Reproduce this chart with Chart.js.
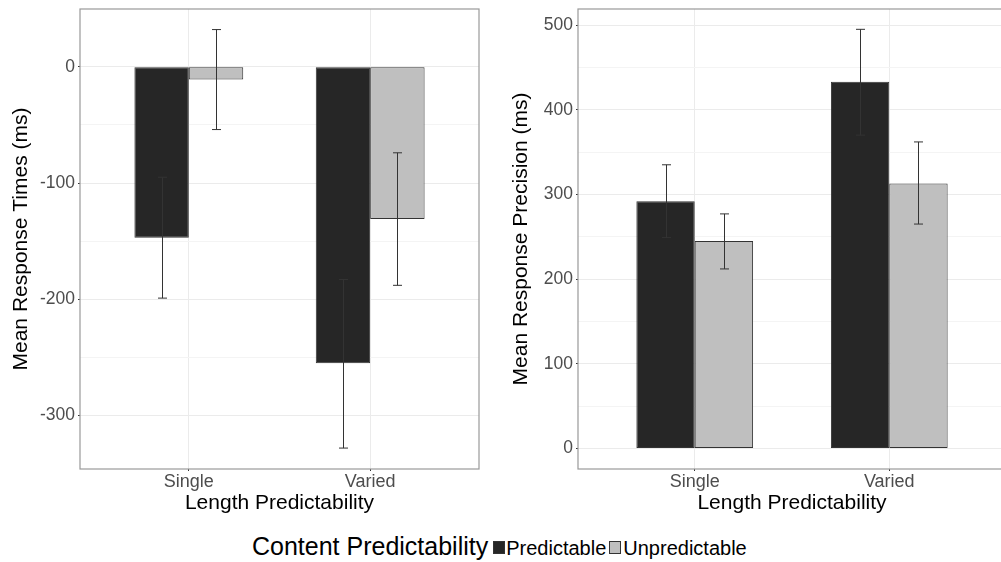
<!DOCTYPE html>
<html>
<head>
<meta charset="utf-8">
<script src="https://cdn.jsdelivr.net/npm/chart.js@4.4.1/dist/chart.umd.min.js"></script>
<style>
  html, body { margin:0; padding:0; background:#fff; width:1001px; height:562px; overflow:hidden; }
  .panel { position:absolute; top:0; }
  #left { left:0; }
  #right { left:500px; }
  #legend { position:absolute; left:252px; top:531px; font-family:'Liberation Sans', Arial, sans-serif;
            font-size:25px; line-height:30px; white-space:nowrap; color:#000; }
  #legend .lab { font-size:20px; }
  #legend .key { display:inline-block; width:10px; height:11px; border:1px solid #333; vertical-align:1px; }
</style>
</head>
<body>
<div class="panel" id="left"><canvas id="rtChart" width="500" height="525"></canvas></div>
<div class="panel" id="right"><canvas id="precChart" width="520" height="525"></canvas></div>
<div id="legend"><span>Content Predictability</span><span class="key" style="background:#262626;margin-left:5px"></span><span class="lab" style="margin-left:1px">Predictable</span><span class="key" style="background:#bfbfbf;margin-left:3px"></span><span class="lab" style="margin-left:2px">Unpredictable</span></div>
<script>
// ---- data ----
const categories = ['Single', 'Varied'];
const seriesNames = ['Predictable', 'Unpredictable'];

// left panel: mean response times (ms)
const rtPredictable   = [-147, -255];
const rtUnpredictable = [-11, -131];
const rtPredLow  = [-199, -328];
const rtPredHigh = [-95, -183];
const rtUnpLow   = [-54, -188];
const rtUnpHigh  = [32, -74];
const rtTicks = [-300, -200, -100, 0];

// right panel: mean response precision (ms)
const precPredictable   = [292, 433];
const precUnpredictable = [245, 313];
const precPredLow  = [249, 370];
const precPredHigh = [335, 495];
const precUnpLow   = [212, 265];
const precUnpHigh  = [277, 362];
const precTicks = [0, 100, 200, 300, 400, 500];

// ---- styling ----
Chart.defaults.font.family = "'Liberation Sans', Arial, sans-serif";
Chart.defaults.animation = false;
const DARK = '#262626', LIGHT = '#bfbfbf', EDGE = '#333333';

const errorBars = {
  id: 'errorBars',
  afterDatasetsDraw(chart){
    const ctx = chart.ctx, y = chart.scales.y;
    ctx.save();
    ctx.strokeStyle = EDGE; ctx.lineWidth = 1;
    chart.data.datasets.forEach((ds, i) => {
      chart.getDatasetMeta(i).data.forEach((bar, j) => {
        const x = Math.round(bar.x) + 0.5;
        const top = y.getPixelForValue(ds.errHigh[j]);
        const bot = y.getPixelForValue(ds.errLow[j]);
        ctx.beginPath();
        ctx.moveTo(x, top); ctx.lineTo(x, bot);
        ctx.moveTo(x - 4.5, top); ctx.lineTo(x + 4.5, top);
        ctx.moveTo(x - 4.5, bot); ctx.lineTo(x + 4.5, bot);
        ctx.stroke();
      });
    });
    ctx.restore();
  }
};

const panelBox = {
  id: 'panelBox',
  afterDraw(chart){
    const a = chart.chartArea, ctx = chart.ctx;
    ctx.save();
    ctx.strokeStyle = '#999'; ctx.lineWidth = 1.2;
    ctx.strokeRect(a.left, a.top, a.right - a.left, a.bottom - a.top);
    ctx.restore();
  }
};

function makePanel(id, cfg){
  const toPts = arr => arr.map((v, i) => ({x: i + 1, y: v}));
  const bar = {borderColor: EDGE, borderWidth: 1, borderSkipped: false, categoryPercentage: 0.6, barPercentage: 1};
  return new Chart(document.getElementById(id), {
    type: 'bar',
    data: {
      datasets: [
        Object.assign({label: seriesNames[0], data: toPts(cfg.pred), backgroundColor: DARK, errLow: cfg.predLow, errHigh: cfg.predHigh}, bar),
        Object.assign({label: seriesNames[1], data: toPts(cfg.unp), backgroundColor: LIGHT, errLow: cfg.unpLow, errHigh: cfg.unpHigh}, bar)
      ]
    },
    options: {
      responsive: false,
      layout: {padding: {top: 9, right: cfg.padRight, left: 0, bottom: 0}},
      plugins: {legend: {display: false}, tooltip: {enabled: false}},
      scales: {
        x: {
          type: 'linear', min: 0.4, max: 2.6, offset: false,
          afterBuildTicks: s => { s.ticks = categories.map((c, i) => ({value: i + 1})); },
          afterFit: s => { s.height = 56; s.paddingLeft = 0; s.paddingRight = 0; },
          ticks: {callback: v => categories[v - 1], color: '#4d4d4d', font: {size: 18}, padding: 0, maxRotation: 0, autoSkip: false},
          grid: {offset: false, color: '#ebebeb', lineWidth: 1, tickLength: 2, tickColor: EDGE},
          border: {display: false},
          title: {display: true, text: 'Length Predictability', color: '#000', font: {size: 21}, padding: {top: 0, bottom: 9}}
        },
        y: {
          min: cfg.range[0], max: cfg.range[1],
          afterFit: s => { s.width = cfg.yWidth; s.paddingTop = 0; s.paddingBottom = 0; },
          ticks: {stepSize: 50, includeBounds: false, callback: v => cfg.ticks.includes(v) ? String(v) : '',
                  color: '#4d4d4d', font: {size: 17.5}, padding: 3},
          grid: {
            color: c => cfg.ticks.includes(c.tick.value) ? '#ebebeb' : '#f4f4f4',
            tickLength: 2,
            tickColor: c => cfg.ticks.includes(c.tick.value) ? EDGE : 'rgba(0,0,0,0)'
          },
          border: {display: false},
          title: {display: true, text: cfg.title, color: '#000', font: {size: 21}, padding: {top: 9, bottom: 0}}
        }
      }
    },
    plugins: [errorBars, panelBox]
  });
}

makePanel('rtChart', {
  pred: rtPredictable, unp: rtUnpredictable,
  predLow: rtPredLow, predHigh: rtPredHigh, unpLow: rtUnpLow, unpHigh: rtUnpHigh,
  range: [-346, 49.7], ticks: rtTicks, title: 'Mean Response Times (ms)',
  yWidth: 80, padRight: 21
});

makePanel('precChart', {
  pred: precPredictable, unp: precUnpredictable,
  predLow: precPredLow, predHigh: precPredHigh, unpLow: precUnpLow, unpHigh: precUnpHigh,
  range: [-24.3, 519], ticks: precTicks, title: 'Mean Response Precision (ms)',
  yWidth: 78, padRight: 14
});
</script>
</body>
</html>
